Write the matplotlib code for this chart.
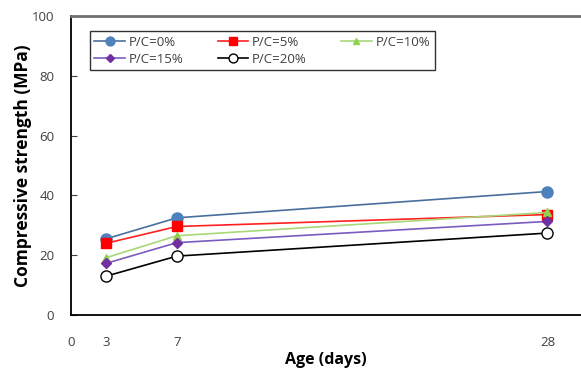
import matplotlib
matplotlib.use('Agg')
import matplotlib.pyplot as plt

plt.rcParams['font.family'] = ['Open Sans', 'DejaVu Sans']

# data
ages = [3, 7, 28]
series_names = ['P/C=0%', 'P/C=5%', 'P/C=10%', 'P/C=15%', 'P/C=20%']
pc0 = [25.5, 32.5, 41.3]
pc5 = [24.0, 29.6, 33.6]
pc10 = [19.2, 26.5, 34.3]
pc15 = [17.3, 24.2, 31.3]
pc20 = [13.0, 19.7, 27.4]
values = [pc0, pc5, pc10, pc15, pc20]

xtick_pos = [1, 3, 7, 28]
xtick_labels = ['0', '3', '7', '28']
yticks = [0, 20, 40, 60, 80, 100]

styles = [
    dict(color='#4a6f9c', marker='o', mfc='#4f81bd', mec='#4f81bd', ms=8),
    dict(color='#ff2020', marker='s', mfc='#ff0000', mec='#ff0000', ms=7.5),
    dict(color='#a8d878', marker='^', mfc='#92d050', mec='#92d050', ms=6),
    dict(color='#7a5cc0', marker='D', mfc='#7030a0', mec='#7030a0', ms=5),
    dict(color='#000000', marker='o', mfc='white', mec='#000000', ms=8, mew=1),
]

fig = plt.figure(figsize=(5.81, 3.69), dpi=100)
ax = fig.add_axes([71 / 581, 1 - 315 / 369, 1 - 71 / 581, 299 / 369])

handles = []
for name, vals, st in zip(series_names, values, styles):
    h, = ax.plot(ages, vals, lw=1.2, label=name, **st)
    handles.append(h)

ax.set_xlim(1, 29.9)
ax.set_ylim(0, 100)
ax.set_xticks(xtick_pos)
ax.set_xticklabels(xtick_labels)
ax.set_yticks(yticks)
ax.tick_params(axis='x', length=0, pad=15, labelsize=9.5, colors='#404040')
ax.tick_params(axis='y', direction='in', length=4, pad=12, labelsize=9.5,
               colors='#404040')

for side in ['left', 'bottom']:
    ax.spines[side].set_color('black')
    ax.spines[side].set_linewidth(1.3)
ax.spines['top'].set_color('#707070')
ax.spines['top'].set_linewidth(2)
ax.spines['right'].set_visible(False)

ax.set_xlabel('Age (days)', fontsize=11.5, fontweight='bold', labelpad=2)
ax.set_ylabel('Compressive strength (MPa)', fontsize=12.5, fontweight='bold',
              labelpad=0)

order = [0, 3, 1, 4, 2]
leg = ax.legend([handles[i] for i in order], [series_names[i] for i in order],
                ncol=3, loc='upper left', bbox_to_anchor=(0.024, 0.972),
                fontsize=9.5, frameon=True, fancybox=False, handlelength=2.3,
                columnspacing=2.6, handletextpad=0.3, labelspacing=0.3,
                borderpad=0.35, markerscale=0.8)
leg.get_frame().set_edgecolor('black')
leg.get_frame().set_linewidth(1.0)
for t in leg.get_texts():
    t.set_color('#404040')

fig.savefig('out.png', dpi=100)
